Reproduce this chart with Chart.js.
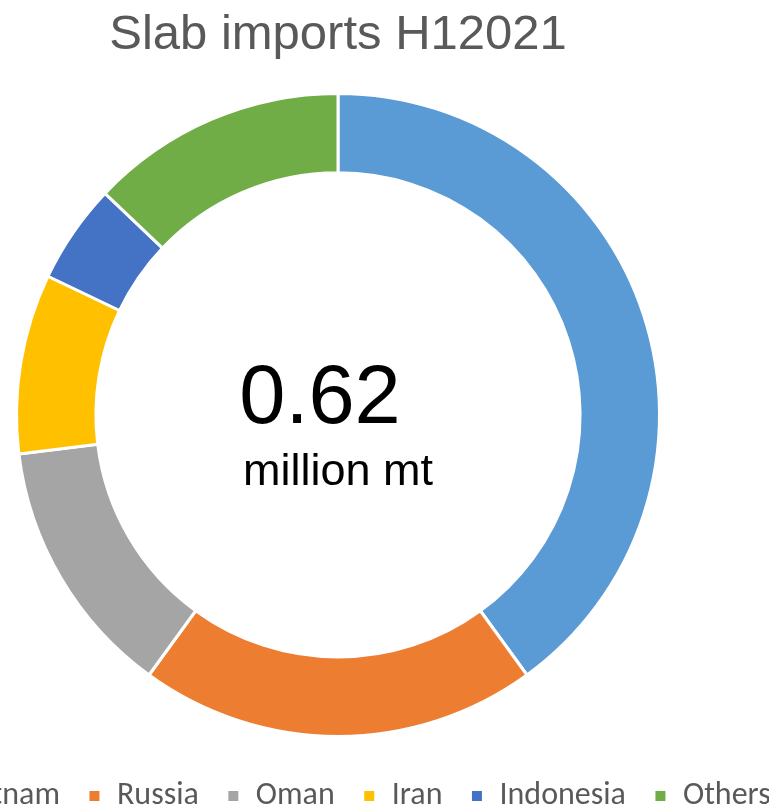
<!DOCTYPE html>
<html>
<head>
<meta charset="utf-8">
<title>Slab imports H12021</title>
<script src="https://cdn.jsdelivr.net/npm/chart.js@4.4.1/dist/chart.umd.min.js"></script>
<style>
  html, body { margin: 0; padding: 0; background: #fff; overflow: hidden; }
  .wrap { position: absolute; left: -162px; top: 0; width: 1000px; height: 807px; }
</style>
</head>
<body>
<div class="wrap"><canvas id="slab" width="1000" height="807"></canvas></div>
<script>
// H1 2021 slab imports by origin, million mt
const origins = ['Vietnam', 'Russia', 'Oman', 'Iran', 'Indonesia', 'Others'];
const volumes = [0.248, 0.124, 0.081, 0.056, 0.031, 0.080];
const colors = ['#5B9BD5', '#ED7D31', '#A5A5A5', '#FFC000', '#4472C4', '#70AD47'];
const totalLabel = '0.62';
const unitLabel = 'million mt';

// total in the hole of the ring
const centerText = {
  id: 'centerText',
  afterDraw(chart) {
    const { ctx, chartArea: a } = chart;
    const cx = (a.left + a.right) / 2, cy = (a.top + a.bottom) / 2;
    ctx.save();
    ctx.fillStyle = '#000';
    ctx.textAlign = 'center';
    ctx.textBaseline = 'alphabetic';
    ctx.font = '83px "Liberation Sans", Arial, sans-serif';
    ctx.fillText(totalLabel, cx - 18, cy + 8);
    ctx.font = '45px "Liberation Sans", Arial, sans-serif';
    ctx.fillText(unitLabel, cx, cy + 70);
    ctx.restore();
  }
};

// legend row sits a little right of the ring's centre line
const legendNudge = {
  id: 'legendNudge',
  afterLayout(chart) {
    const lg = chart.legend;
    if (!lg) return;
    lg.left += 8;
    lg.right += 8;
  }
};

new Chart(document.getElementById('slab'), {
  type: 'doughnut',
  data: {
    labels: origins,
    datasets: [{
      data: volumes,
      backgroundColor: colors,
      borderColor: '#fff',
      borderWidth: 3,
      radius: 321.5,
      cutout: '75.3%'
    }]
  },
  options: {
    responsive: false,
    animation: false,
    layout: { padding: { top: 0, bottom: -15 } },
    plugins: {
      title: {
        display: true,
        text: 'Slab imports H12021',
        color: '#595959',
        font: { family: '"Liberation Sans", Arial, sans-serif', size: 49, weight: 'normal' },
        padding: { top: 6, bottom: 13 }
      },
      legend: {
        position: 'bottom',
        labels: {
          color: '#595959',
          font: { family: 'Carlito, Lato, sans-serif', size: 32, lineHeight: 1 },
          boxWidth: 13,
          boxHeight: 13,
          padding: 28
        }
      },
      tooltip: { enabled: false }
    }
  },
  plugins: [centerText, legendNudge]
});
</script>
</body>
</html>
